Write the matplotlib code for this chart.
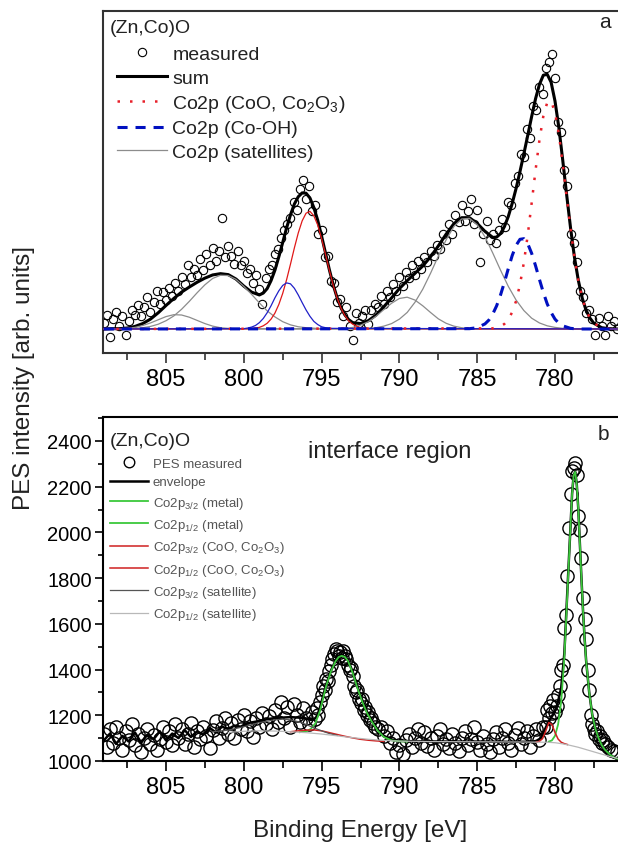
import matplotlib
matplotlib.use("Agg")
import matplotlib.pyplot as plt
from matplotlib.ticker import MultipleLocator

plt.rcParams["font.family"] = ["Liberation Sans", "DejaVu Sans"]
plt.rcParams["mathtext.default"] = "regular"

# ---------------- panel a: (Zn,Co)O, Co2p, normalised intensity ----------------
a_meas_e = [
    809.0, 808.8, 808.6, 808.4, 808.2, 808.0, 807.8, 807.6, 807.4, 807.2,
    807.0, 806.8, 806.6, 806.4, 806.2, 806.0, 805.8, 805.6, 805.4, 805.2,
    805.0, 804.8, 804.6, 804.4, 804.2, 804.0, 803.8, 803.6, 803.4, 803.2,
    803.0, 802.8, 802.6, 802.4, 802.2, 802.0, 801.8, 801.6, 801.4, 801.2,
    801.0, 800.8, 800.6, 800.4, 800.2, 800.0, 799.8, 799.6, 799.4, 799.2,
    799.0, 798.8, 798.6, 798.4, 798.2, 798.0, 797.8, 797.6, 797.4, 797.2,
    797.0, 796.8, 796.6, 796.4, 796.2, 796.0, 795.8, 795.6, 795.4, 795.2,
    795.0, 794.8, 794.6, 794.4, 794.2, 794.0, 793.8, 793.6, 793.4, 793.2,
    793.0, 792.8, 792.6, 792.4, 792.2, 792.0, 791.8, 791.6, 791.4, 791.2,
    791.0, 790.8, 790.6, 790.4, 790.2, 790.0, 789.8, 789.6, 789.4, 789.2,
    789.0, 788.8, 788.6, 788.4, 788.2, 788.0, 787.8, 787.6, 787.4, 787.2,
    787.0, 786.8, 786.6, 786.4, 786.2, 786.0, 785.8, 785.6, 785.4, 785.2,
    785.0, 784.8, 784.6, 784.4, 784.2, 784.0, 783.8, 783.6, 783.4, 783.2,
    783.0, 782.8, 782.6, 782.4, 782.2, 782.0, 781.8, 781.6, 781.4, 781.2,
    781.0, 780.8, 780.6, 780.4, 780.2, 780.0, 779.8, 779.6, 779.4, 779.2,
    779.0, 778.8, 778.6, 778.4, 778.2, 778.0, 777.8, 777.6, 777.4, 777.2,
    777.0, 776.8, 776.6, 776.4, 776.2, 776.0,
]
a_meas = [
    0.02, 0.045, -0.025, 0.03, 0.055, 0.01, 0.04, -0.02, 0.025, 0.06,
    0.045, 0.075, 0.04, 0.07, 0.10, 0.055, 0.085, 0.12, 0.08, 0.115,
    0.09, 0.13, 0.105, 0.145, 0.12, 0.165, 0.14, 0.20, 0.165, 0.19,
    0.17, 0.22, 0.185, 0.235, 0.20, 0.255, 0.215, 0.245, 0.35, 0.225,
    0.26, 0.23, 0.205, 0.245, 0.20, 0.215, 0.175, 0.19, 0.145, 0.17,
    0.125, 0.08, 0.16, 0.19, 0.20, 0.235, 0.25, 0.285, 0.31, 0.33,
    0.35, 0.40, 0.375, 0.44, 0.47, 0.41, 0.45, 0.37, 0.39, 0.30,
    0.31, 0.225, 0.23, 0.15, 0.145, 0.085, 0.095, 0.04, 0.07, 0.01,
    -0.035, 0.05, 0.02, 0.04, 0.06, 0.015, 0.06, 0.08, 0.07, 0.105,
    0.08, 0.12, 0.10, 0.14, 0.12, 0.165, 0.135, 0.18, 0.16, 0.20,
    0.17, 0.215, 0.19, 0.225, 0.21, 0.245, 0.23, 0.265, 0.25, 0.30,
    0.28, 0.33, 0.30, 0.36, 0.335, 0.39, 0.34, 0.37, 0.41, 0.33,
    0.375, 0.21, 0.30, 0.34, 0.28, 0.30, 0.27, 0.31, 0.345, 0.32,
    0.40, 0.39, 0.46, 0.48, 0.55, 0.54, 0.63, 0.60, 0.70, 0.69,
    0.76, 0.74, 0.82, 0.84, 0.865, 0.79, 0.65, 0.62, 0.50, 0.45,
    0.30, 0.27, 0.21, 0.12, 0.10, 0.05, 0.06, 0.03, -0.02, 0.035,
    0.01, -0.02, 0.04, 0.01, 0.025, 0.0,
]

a_sum_e = [
    809.0, 808.5, 808.0, 807.5, 807.0, 806.5, 806.0, 805.5, 805.0, 804.5,
    804.0, 803.5, 803.0, 802.5, 802.0, 801.5, 801.0, 800.5, 800.0, 799.5,
    799.0, 798.75, 798.5, 798.25, 798.0, 797.75, 797.5, 797.25, 797.0, 796.75,
    796.5, 796.25, 796.0, 795.75, 795.5, 795.25, 795.0, 794.75, 794.5, 794.25,
    794.0, 793.75, 793.5, 793.25, 793.0, 792.5, 792.0, 791.5, 791.0, 790.5,
    790.0, 789.5, 789.0, 788.5, 788.0, 787.5, 787.0, 786.5, 786.0, 785.5,
    785.0, 784.5, 784.0, 783.75, 783.5, 783.25, 783.0, 782.75, 782.5, 782.25,
    782.0, 781.75, 781.5, 781.25, 781.0, 780.75, 780.5, 780.25, 780.0, 779.75,
    779.5, 779.25, 779.0, 778.75, 778.5, 778.25, 778.0, 777.75, 777.5, 777.0,
    776.5, 776.0,
]
a_sum = [
    0.000, 0.001, 0.001, 0.003, 0.008, 0.017, 0.031, 0.051, 0.074, 0.096,
    0.116, 0.132, 0.147, 0.160, 0.170, 0.174, 0.171, 0.157, 0.135, 0.116,
    0.107, 0.113, 0.127, 0.152, 0.185, 0.227, 0.272, 0.318, 0.359, 0.393,
    0.416, 0.428, 0.427, 0.412, 0.382, 0.342, 0.292, 0.239, 0.186, 0.138,
    0.098, 0.066, 0.044, 0.029, 0.020, 0.017, 0.026, 0.044, 0.070, 0.098,
    0.127, 0.152, 0.175, 0.198, 0.227, 0.261, 0.298, 0.331, 0.350, 0.350,
    0.332, 0.307, 0.288, 0.289, 0.300, 0.322, 0.354, 0.395, 0.442, 0.495,
    0.551, 0.609, 0.668, 0.724, 0.769, 0.798, 0.801, 0.776, 0.717, 0.633,
    0.530, 0.422, 0.318, 0.226, 0.153, 0.097, 0.059, 0.034, 0.018, 0.004,
    0.001, 0.000,
]

# Co2p3/2 oxide (CoO, Co2O3)
a_oxide_e = [
    809.0, 784.0, 783.5, 783.25, 783.0, 782.75, 782.5, 782.25, 782.0, 781.75,
    781.5, 781.25, 781.0, 780.75, 780.5, 780.25, 780.0, 779.75, 779.5, 779.25,
    779.0, 778.75, 778.5, 778.25, 778.0, 777.75, 777.5, 777.0, 776.5, 776.0,
]
a_oxide = [
    0.0, 0.002, 0.008, 0.016, 0.030, 0.053, 0.088, 0.140, 0.209, 0.296,
    0.396, 0.499, 0.594, 0.669, 0.712, 0.717, 0.681, 0.612, 0.518, 0.416,
    0.315, 0.226, 0.153, 0.097, 0.059, 0.034, 0.018, 0.004, 0.001, 0.0,
]

# Co2p3/2 hydroxide (Co-OH)
a_hydrox_e = [
    809.0, 785.5, 785.0, 784.5, 784.25, 784.0, 783.75, 783.5, 783.25, 783.0,
    782.75, 782.5, 782.25, 782.0, 781.75, 781.5, 781.25, 781.0, 780.75, 780.5,
    780.25, 780.0, 779.75, 779.5, 779.0, 778.5, 776.0,
]
a_hydrox = [
    0.0, 0.001, 0.004, 0.016, 0.028, 0.047, 0.073, 0.107, 0.147, 0.190,
    0.231, 0.263, 0.282, 0.284, 0.268, 0.238, 0.199, 0.156, 0.115, 0.079,
    0.052, 0.031, 0.018, 0.010, 0.002, 0.0, 0.0,
]

# Co2p1/2 oxide and hydroxide (thin lines)
a_oxide12_e = [
    809.0, 799.5, 799.0, 798.75, 798.5, 798.25, 798.0, 797.75, 797.5, 797.25,
    797.0, 796.75, 796.5, 796.25, 796.0, 795.75, 795.5, 795.25, 795.0, 794.75,
    794.5, 794.25, 794.0, 793.75, 793.5, 793.25, 793.0, 792.5, 792.0, 776.0,
]
a_oxide12 = [
    0.0, 0.001, 0.005, 0.010, 0.018, 0.031, 0.050, 0.077, 0.112, 0.155,
    0.204, 0.255, 0.302, 0.340, 0.364, 0.370, 0.356, 0.327, 0.284, 0.235,
    0.184, 0.137, 0.097, 0.065, 0.042, 0.025, 0.015, 0.004, 0.001, 0.0,
]
a_hydrox12_e = [
    809.0, 800.0, 799.75, 799.5, 799.25, 799.0, 798.75, 798.5, 798.25, 798.0,
    797.75, 797.5, 797.25, 797.0, 796.75, 796.5, 796.25, 796.0, 795.75, 795.5,
    795.25, 795.0, 794.75, 794.5, 776.0,
]
a_hydrox12 = [
    0.0, 0.001, 0.003, 0.006, 0.011, 0.020, 0.033, 0.051, 0.073, 0.098,
    0.120, 0.137, 0.145, 0.142, 0.128, 0.107, 0.083, 0.060, 0.040, 0.024,
    0.014, 0.007, 0.004, 0.002, 0.0,
]

# shake-up satellites
a_sat1_e = [
    809.0, 792.5, 792.0, 791.5, 791.0, 790.5, 790.0, 789.5, 789.0, 788.5,
    788.0, 787.5, 787.0, 786.5, 786.0, 785.5, 785.0, 784.5, 784.0, 783.5,
    783.0, 782.5, 782.0, 781.5, 781.0, 780.5, 780.0, 779.5, 779.0, 776.0,
]
a_sat1 = [
    0.0, 0.001, 0.002, 0.004, 0.009, 0.017, 0.031, 0.052, 0.084, 0.125,
    0.175, 0.229, 0.280, 0.322, 0.346, 0.348, 0.328, 0.290, 0.239, 0.185,
    0.134, 0.091, 0.058, 0.034, 0.019, 0.010, 0.005, 0.002, 0.001, 0.0,
]
a_sat2_e = [
    809.0, 794.0, 793.5, 793.0, 792.5, 792.0, 791.5, 791.0, 790.5, 790.0,
    789.5, 789.0, 788.5, 788.0, 787.5, 787.0, 786.5, 786.0, 785.5, 776.0,
]
a_sat2 = [
    0.0, 0.001, 0.002, 0.005, 0.012, 0.023, 0.040, 0.061, 0.081, 0.096,
    0.100, 0.091, 0.073, 0.052, 0.032, 0.018, 0.009, 0.004, 0.001, 0.0,
]
a_sat3_e = [
    809.0, 808.0, 807.0, 806.5, 806.0, 805.5, 805.0, 804.5, 804.0, 803.5,
    803.0, 802.5, 802.0, 801.5, 801.0, 800.5, 800.0, 799.5, 799.0, 798.5,
    798.0, 797.5, 797.0, 796.5, 796.0, 795.0, 776.0,
]
a_sat3 = [
    0.0, 0.0, 0.002, 0.004, 0.008, 0.015, 0.026, 0.041, 0.062, 0.087,
    0.114, 0.139, 0.159, 0.169, 0.168, 0.156, 0.134, 0.109, 0.082, 0.057,
    0.038, 0.023, 0.013, 0.007, 0.004, 0.001, 0.0,
]
a_sat4_e = [
    809.0, 808.5, 808.0, 807.5, 807.0, 806.5, 806.0, 805.5, 805.0, 804.5,
    804.0, 803.5, 803.0, 802.5, 802.0, 801.5, 801.0, 800.5, 776.0,
]
a_sat4 = [
    0.0, 0.0, 0.001, 0.002, 0.005, 0.011, 0.019, 0.029, 0.039, 0.045,
    0.044, 0.037, 0.027, 0.017, 0.009, 0.004, 0.002, 0.001, 0.0,
]

# ---------------- panel b: interface region, PES counts ----------------
b_meas_e = [
    809.0, 808.8, 808.6, 808.4, 808.2, 808.0, 807.8, 807.6, 807.4, 807.2,
    807.0, 806.8, 806.6, 806.4, 806.2, 806.0, 805.8, 805.6, 805.4, 805.2,
    805.0, 804.8, 804.6, 804.4, 804.2, 804.0, 803.8, 803.6, 803.4, 803.2,
    803.0, 802.8, 802.6, 802.4, 802.2, 802.0, 801.8, 801.6, 801.4, 801.2,
    801.0, 800.8, 800.6, 800.4, 800.2, 800.0, 799.8, 799.6, 799.4, 799.2,
    799.0, 798.8, 798.6, 798.4, 798.2, 798.0, 797.8, 797.6, 797.4, 797.2,
    797.0, 796.8, 796.6, 796.4, 796.2, 796.0, 795.8, 795.6,
    795.4, 795.3, 795.2, 795.1, 795.0, 794.9, 794.8, 794.7, 794.6, 794.5,
    794.4, 794.3, 794.2, 794.1, 794.0, 793.9, 793.8, 793.7, 793.6, 793.5,
    793.4, 793.3, 793.2, 793.1, 793.0, 792.9, 792.8, 792.7, 792.6, 792.5,
    792.4, 792.3, 792.2, 792.1, 792.0, 791.9, 791.8, 791.7, 791.6,
    791.4, 791.2, 791.0, 790.8, 790.6, 790.4, 790.2, 790.0, 789.8, 789.6,
    789.4, 789.2, 789.0, 788.8, 788.6, 788.4, 788.2, 788.0, 787.8, 787.6,
    787.4, 787.2, 787.0, 786.8, 786.6, 786.4, 786.2, 786.0, 785.8, 785.6,
    785.4, 785.2, 785.0, 784.8, 784.6, 784.4, 784.2, 784.0, 783.8, 783.6,
    783.4, 783.2, 783.0, 782.8, 782.6, 782.4, 782.2, 782.0, 781.8, 781.6,
    781.4, 781.2, 781.0, 780.8,
    780.6, 780.5, 780.4, 780.3, 780.2, 780.1, 780.0, 779.9, 779.8, 779.7,
    779.6, 779.5, 779.4, 779.3, 779.2, 779.1, 779.0, 778.9, 778.8, 778.7,
    778.6, 778.5, 778.4, 778.3, 778.2, 778.1, 778.0, 777.9, 777.8, 777.7,
    777.6, 777.5, 777.4, 777.3, 777.2, 777.1, 777.0, 776.9, 776.8,
    776.6, 776.4, 776.2, 776.0,
]
b_meas = [
    1120, 1060, 1140, 1080, 1150, 1100, 1050, 1130, 1090, 1160,
    1070, 1120, 1040, 1100, 1140, 1075, 1115, 1050, 1095, 1150,
    1085, 1130, 1070, 1160, 1100, 1140, 1075, 1120, 1165, 1060,
    1130, 1095, 1150, 1110, 1055, 1135, 1175, 1100, 1145, 1190,
    1120, 1165, 1100, 1180, 1140, 1200, 1130, 1175, 1105, 1190,
    1150, 1210, 1160, 1195, 1140, 1225, 1170, 1260, 1190, 1235,
    1150, 1250, 1200, 1170, 1230, 1190, 1160, 1215,
    1185, 1230, 1200, 1260, 1290, 1330, 1310, 1360, 1350, 1395,
    1420, 1445, 1470, 1490, 1480, 1460, 1475, 1450, 1480, 1460,
    1445, 1420, 1400, 1405, 1370, 1330, 1300, 1310, 1270, 1255,
    1270, 1225, 1235, 1200, 1215, 1180, 1190, 1165, 1150,
    1140, 1150, 1110, 1130, 1080, 1100, 1040, 1070, 1030, 1090,
    1120, 1060, 1100, 1140, 1080, 1125, 1065, 1100, 1050, 1110,
    1140, 1075, 1095, 1055, 1120, 1080, 1045, 1100, 1130, 1070,
    1095, 1150, 1085, 1050, 1110, 1075, 1040, 1095, 1125, 1060,
    1100, 1140, 1080, 1050, 1115, 1145, 1075, 1100, 1130, 1060,
    1110, 1140, 1090, 1150,
    1150, 1225, 1190, 1240, 1210, 1265, 1215, 1240, 1290, 1330,
    1400, 1420, 1580, 1640, 1810, 2020, 2170, 2270, 2280, 2305,
    2250, 2070, 2010, 1890, 1715, 1620, 1535, 1400, 1310, 1200,
    1160, 1140, 1120, 1130, 1095, 1110, 1080, 1090, 1075,
    1060, 1050, 1045, 1040,
]

b_env_e = [
    809.0, 808.6, 808.2, 807.8, 807.4, 807.0, 806.6, 806.2, 805.8, 805.4,
    805.0, 804.6, 804.2, 803.8, 803.4, 803.0, 802.6, 802.2, 801.8, 801.4,
    801.0, 800.6, 800.2, 799.8, 799.4, 799.0, 798.5, 798.0, 797.5, 797.0,
    796.5, 796.0, 795.7, 795.5, 795.3, 795.1, 794.9, 794.7, 794.4, 794.1,
    793.9, 793.7, 793.5, 793.3, 793.0, 792.7, 792.4, 792.1, 791.8, 791.4,
    791.0, 790.5, 790.0, 789.0, 787.0, 785.0, 783.0, 781.5, 781.2, 780.9,
    780.7, 780.5, 780.3, 780.1, 779.9, 779.7, 779.6, 779.4, 779.2, 779.0,
    778.9, 778.8, 778.7, 778.6, 778.5, 778.4, 778.3, 778.2, 778.1, 778.0,
    777.8, 777.6, 777.4, 777.2, 777.0, 776.8, 776.5, 776.2, 776.0,
]
b_env = [
    1090, 1120, 1075, 1110, 1085, 1125, 1080, 1115, 1095, 1130,
    1090, 1120, 1100, 1135, 1105, 1130, 1115, 1145, 1125, 1150,
    1140, 1155, 1150, 1165, 1170, 1175, 1183, 1188, 1190, 1192,
    1190, 1186, 1180, 1182, 1195, 1235, 1285, 1335, 1395, 1440,
    1458, 1462, 1457, 1440, 1390, 1325, 1268, 1218, 1180, 1138,
    1110, 1094, 1088, 1086, 1085, 1085, 1084, 1084, 1088, 1100,
    1130, 1160, 1185, 1205, 1235, 1290, 1320, 1470, 1750, 2030,
    2170, 2250, 2265, 2210, 2100, 1950, 1800, 1660, 1540, 1440,
    1300, 1200, 1140, 1100, 1070, 1050, 1030, 1015, 1010,
]

b_met32_e = [
    780.4, 780.2, 780.0, 779.8, 779.6, 779.4, 779.2, 779.0, 778.9, 778.8,
    778.7, 778.6, 778.5, 778.4, 778.3, 778.2, 778.1, 778.0, 777.8, 777.6,
    777.4, 777.2, 777.0, 776.8, 776.5, 776.2, 776.0,
]
b_met32 = [
    1085, 1090, 1110, 1160, 1260, 1450, 1740, 2030, 2170, 2250,
    2265, 2210, 2100, 1950, 1800, 1660, 1540, 1440, 1300, 1200,
    1140, 1100, 1070, 1050, 1030, 1015, 1010,
]
b_met12_e = [
    796.4, 796.0, 795.7, 795.4, 795.1, 794.9, 794.7, 794.4, 794.1, 793.9,
    793.7, 793.5, 793.3, 793.0, 792.7, 792.4, 792.1, 791.8, 791.4, 791.0,
    790.5, 790.0, 789.5,
]
b_met12 = [
    1126, 1130, 1140, 1165, 1220, 1275, 1330, 1392, 1437, 1455,
    1460, 1455, 1437, 1385, 1320, 1262, 1212, 1175, 1133, 1105,
    1090, 1086, 1085,
]
b_ox32_e = [781.2, 781.0, 780.8, 780.6, 780.4, 780.2, 780.0, 779.8, 779.6, 779.4, 779.2]
b_ox32 = [1083, 1086, 1098, 1130, 1168, 1160, 1125, 1096, 1082, 1076, 1072]
b_ox12_e = [797.0, 796.5, 796.0, 795.5, 795.0, 794.5, 794.0, 793.5, 793.0, 792.5, 792.0, 791.5, 791.0]
b_ox12 = [1128, 1132, 1135, 1136, 1132, 1124, 1116, 1108, 1101, 1095, 1091, 1088, 1086]
b_sat32_e = [802.0, 801.0, 800.0, 799.0, 798.0, 797.5, 797.0, 796.5, 796.0, 795.5, 795.0, 794.5, 794.0]
b_sat32 = [1128, 1135, 1150, 1168, 1180, 1183, 1180, 1172, 1160, 1145, 1132, 1120, 1112]
b_sat12_e = [
    801.0, 800.0, 799.0, 798.0, 797.0, 796.0, 795.0, 794.0, 793.0, 792.0,
    791.0, 790.0, 788.0, 785.0, 782.0, 780.5, 780.0, 779.5, 779.0, 778.5,
    778.0, 777.5, 777.0, 776.5, 776.0,
]
b_sat12 = [
    1125, 1130, 1132, 1131, 1128, 1124, 1118, 1110, 1102, 1095,
    1090, 1087, 1085, 1084, 1083, 1082, 1080, 1075, 1068, 1060,
    1050, 1040, 1030, 1020, 1012,
]

x_range = (809.05, 775.95)

fig = plt.figure(figsize=(6.18, 8.45), dpi=100)
ax1 = fig.add_axes([103 / 618, 1 - 354 / 845, 515 / 618, 342 / 845])
ax2 = fig.add_axes([103 / 618, 1 - 762 / 845, 515 / 618, 344 / 845])

# --- panel a ---
ax1.plot(a_meas_e, a_meas, "o", ms=6, mfc="none", mec="black", mew=0.8,
         label="measured", zorder=2)
ax1.plot(a_sum_e, a_sum, color="black", lw=2.2, label="sum", zorder=3)
ax1.plot(a_sat1_e, a_sat1, color="#8c8c8c", lw=0.9, label="Co2p (satellites)", zorder=4)
for e, v in [(a_sat2_e, a_sat2), (a_sat3_e, a_sat3), (a_sat4_e, a_sat4)]:
    ax1.plot(e, v, color="#8c8c8c", lw=0.9, zorder=4)
ax1.plot(a_oxide12_e, a_oxide12, color="#e01818", lw=0.9, zorder=5)
ax1.plot(a_hydrox12_e, a_hydrox12, color="#2020c8", lw=0.9, zorder=5)
ax1.plot(a_oxide_e, a_oxide, color="#e8202a", lw=1.8, ls=(0, (1, 4)),
         label="Co2p (CoO, Co$_2$O$_3$)", zorder=5)
ax1.plot(a_hydrox_e, a_hydrox, color="#0010c0", lw=2.2, ls=(0, (3.3, 2.6)),
         label="Co2p (Co-OH)", zorder=5)

ax1.set_xlim(*x_range)
ax1.set_ylim(-0.0755, 1.0)
ax1.set_yticks([])
ax1.xaxis.set_major_locator(MultipleLocator(5))
ax1.xaxis.set_minor_locator(MultipleLocator(2.5))
ax1.tick_params(axis="x", which="major", direction="out", length=7, width=1.2,
                labelsize=17, pad=4, color="#333333")
ax1.tick_params(axis="x", which="minor", direction="out", length=5, width=1.2,
                color="#333333")
ax1.spines["right"].set_visible(False)
for s in ("top", "bottom", "left"):
    ax1.spines[s].set_linewidth(1.5)
    ax1.spines[s].set_color("#333333")

h, l = ax1.get_legend_handles_labels()
order = ["measured", "sum", "Co2p (CoO, Co$_2$O$_3$)", "Co2p (Co-OH)", "Co2p (satellites)"]
hs = [h[l.index(k)] for k in order]
ax1.legend(hs, order, loc="upper left", bbox_to_anchor=(0.027, 0.899),
           frameon=False, fontsize=14, handlelength=2.6, handletextpad=0.25,
           labelspacing=0.31, borderpad=0, borderaxespad=0, labelcolor="#222222")
ax1.text(0.0136, 0.953, "(Zn,Co)O", transform=ax1.transAxes, fontsize=14,
         ha="left", va="center", color="#222222")
ax1.text(0.975, 0.968, "a", transform=ax1.transAxes, fontsize=15,
         ha="center", va="center", color="#222222")

# --- panel b ---
ax2.plot(b_meas_e, b_meas, "o", ms=9.5, mfc="none", mec="black", mew=1.0,
         label="PES measured", zorder=2)
ax2.plot(b_env_e, b_env, color="black", lw=1.8, label="envelope", zorder=3)
ax2.plot(b_met32_e, b_met32, color="#3cc83c", lw=1.3, label="Co2p$_{3/2}$ (metal)", zorder=4)
ax2.plot(b_met12_e, b_met12, color="#3cc83c", lw=1.3, label="Co2p$_{1/2}$ (metal)", zorder=4)
ax2.plot(b_ox32_e, b_ox32, color="#d02020", lw=1.1,
         label="Co2p$_{3/2}$ (CoO, Co$_2$O$_3$)", zorder=4)
ax2.plot(b_ox12_e, b_ox12, color="#d02020", lw=1.1,
         label="Co2p$_{1/2}$ (CoO, Co$_2$O$_3$)", zorder=4)
ax2.plot(b_sat32_e, b_sat32, color="#555555", lw=0.9,
         label="Co2p$_{3/2}$ (satellite)", zorder=4)
ax2.plot(b_sat12_e, b_sat12, color="#b8b8b8", lw=0.9,
         label="Co2p$_{1/2}$ (satellite)", zorder=4)

ax2.set_xlim(*x_range)
ax2.set_ylim(1000, 2505)
ax2.xaxis.set_major_locator(MultipleLocator(5))
ax2.xaxis.set_minor_locator(MultipleLocator(2.5))
ax2.yaxis.set_minor_locator(MultipleLocator(100))
ax2.set_yticks(range(1000, 2401, 200))
ax2.tick_params(axis="x", which="major", direction="out", length=7, width=1.2,
                labelsize=17, pad=4)
ax2.tick_params(axis="x", which="minor", direction="out", length=5, width=1.2)
ax2.tick_params(axis="y", which="major", direction="out", length=6, width=1.2,
                labelsize=14.5, pad=2)
ax2.tick_params(axis="y", which="minor", direction="out", length=3.5, width=1.2)
ax2.spines["right"].set_visible(False)
for s in ("top", "bottom", "left"):
    ax2.spines[s].set_linewidth(1.5)

ax2.legend(loc="upper left", bbox_to_anchor=(0.0136, 0.882), frameon=False,
           fontsize=9.5, handlelength=2.9, handletextpad=0.35, labelspacing=0.48,
           borderpad=0, borderaxespad=0, labelcolor="#555555", markerscale=0.8)
ax2.text(0.0136, 0.933, "(Zn,Co)O", transform=ax2.transAxes, fontsize=14,
         ha="left", va="center", color="#222222")
ax2.text(0.971, 0.951, "b", transform=ax2.transAxes, fontsize=15,
         ha="center", va="center", color="#222222")
ax2.text(0.557, 0.901, "interface region", transform=ax2.transAxes, fontsize=17,
         ha="center", va="center", color="#222222")

fig.text(24 / 618, 1 - 378 / 845, "PES intensity [arb. units]", rotation=90,
         ha="center", va="center", fontsize=17.5, color="#222222")
fig.text(360 / 618, 1 - 831 / 845, "Binding Energy [eV]", ha="center",
         va="center", fontsize=17.5, color="#222222")

fig.savefig("out.png", dpi=100)
